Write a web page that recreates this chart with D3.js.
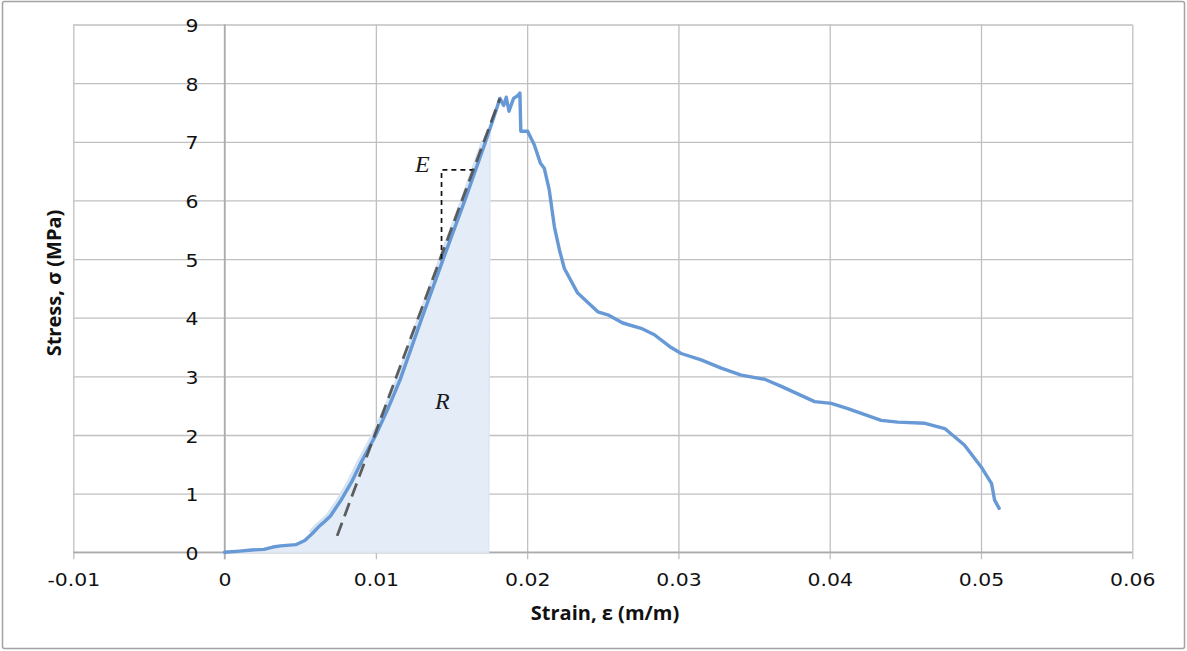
<!DOCTYPE html>
<html>
<head>
<meta charset="utf-8">
<script src="https://cdn.jsdelivr.net/npm/d3@7"></script>
<style>
  html, body { margin: 0; padding: 0; background: #fff; }
  svg { display: block; }
</style>
</head>
<body>
<svg id="chart" width="1187" height="651"></svg>
<script>
// ---- data ----
const strain = [0, 0.001, 0.0018, 0.0026, 0.0032, 0.0037, 0.0047, 0.0053, 0.0058, 0.0062, 0.0066, 0.007, 0.0077, 0.0084, 0.009, 0.0095, 0.01, 0.0108, 0.0116, 0.01305, 0.01445, 0.01588, 0.01725, 0.0179, 0.0182, 0.01845, 0.01862, 0.0188, 0.0191, 0.01935, 0.01952, 0.01958, 0.02003, 0.02047, 0.02087, 0.02113, 0.02146, 0.0218, 0.02213, 0.02246, 0.02334, 0.02467, 0.02533, 0.02632, 0.02753, 0.02841, 0.02941, 0.03018, 0.0315, 0.03283, 0.03415, 0.0357, 0.0368, 0.039, 0.0401, 0.0412, 0.0434, 0.0445, 0.0463, 0.0476, 0.0489, 0.05, 0.0507, 0.0509, 0.0512];
const stress = [0, 0.02, 0.04, 0.05, 0.09, 0.11, 0.13, 0.2, 0.32, 0.43, 0.52, 0.62, 0.89, 1.2, 1.52, 1.76, 2.0, 2.45, 2.94, 4.0, 5.0, 6.0, 7.0, 7.5, 7.74, 7.62, 7.76, 7.52, 7.74, 7.78, 7.83, 7.18, 7.18, 6.95, 6.64, 6.55, 6.18, 5.55, 5.16, 4.84, 4.42, 4.10, 4.05, 3.91, 3.82, 3.71, 3.51, 3.39, 3.28, 3.14, 3.02, 2.95, 2.83, 2.57, 2.54, 2.45, 2.25, 2.22, 2.20, 2.11, 1.83, 1.46, 1.17, 0.89, 0.75];

// resilience area R (shaded), ends here
const shadeTopStrain = 0.01755, shadeTopStress = 7.3, shadeBottomStrain = 0.01745;
// tangent (modulus E) dashed line
const tangentStrain = [0.00744, 0.0182];
const tangentStress = [0.28, 7.74];
// small slope triangle
const triStrain = [0.01434, 0.01434, 0.01639];
const triStress = [5.0, 6.52, 6.52];

const xTicks = [-0.01, 0, 0.01, 0.02, 0.03, 0.04, 0.05, 0.06];
const xTickLabels = ["-0.01", "0", "0.01", "0.02", "0.03", "0.04", "0.05", "0.06"];
const yTicks = [0, 1, 2, 3, 4, 5, 6, 7, 8, 9];
const yTickLabels = ["0", "1", "2", "3", "4", "5", "6", "7", "8", "9"];

const xTitle = "Strain, ε (m/m)";
const yTitle = "Stress, σ (MPa)";

// ---- layout ----
const svg = d3.select("#chart");
const L = 73.3, R = 1132.3, T = 24.5, B = 552.3;
const x = d3.scaleLinear().domain([-0.01, 0.06]).range([L, R]);
const y = d3.scaleLinear().domain([0, 9]).range([B, T]);
const SX = 1.2; // horizontal stretch of tick text seen in the reference

// outer border
svg.append("rect").attr("x", 2.5).attr("y", 1.5).attr("width", 1182).attr("height", 647)
  .attr("fill", "none").attr("stroke", "#a3a3a3").attr("stroke-width", 1.5).attr("rx", 2);

// horizontal grid
const gy = svg.append("g").attr("transform", `translate(${L},0)`)
  .call(d3.axisLeft(y).tickValues(yTicks).tickSize(-(R - L)).tickFormat(""));
gy.select(".domain").remove();
gy.selectAll(".tick line").attr("stroke", "#c0c0c0").attr("stroke-width", 1.3);

// vertical grid (with small tick extension below zero line)
const gx = svg.append("g").attr("transform", `translate(0,${B})`)
  .call(d3.axisBottom(x).tickValues(xTicks).tickSize(-(B - T)).tickFormat(""));
gx.select(".domain").remove();
gx.selectAll(".tick line").attr("y1", 7).attr("stroke", "#c0c0c0").attr("stroke-width", 1.3);

// zero axes slightly darker
svg.append("line").attr("x1", L).attr("x2", R).attr("y1", y(0)).attr("y2", y(0))
  .attr("stroke", "#ababab").attr("stroke-width", 1.5);
svg.append("line").attr("x1", x(0)).attr("x2", x(0)).attr("y1", T).attr("y2", B + 7)
  .attr("stroke", "#ababab").attr("stroke-width", 1.5);

// tick labels
const xl = svg.append("g").attr("transform", `translate(0,${B})`)
  .call(d3.axisBottom(x).tickValues(xTicks).tickSize(0).tickFormat((d, i) => xTickLabels[i]));
xl.select(".domain").remove();
xl.selectAll(".tick text")
  .attr("y", 0).attr("dy", null)
  .attr("transform", `translate(0,34) scale(${SX},1)`)
  .attr("font-family", "DejaVu Sans").attr("font-size", 17).attr("fill", "#111");

const yl = svg.append("g").attr("transform", `translate(${x(0)},0)`)
  .call(d3.axisLeft(y).tickValues(yTicks).tickSize(0).tickFormat((d, i) => yTickLabels[i]));
yl.select(".domain").remove();
yl.selectAll(".tick text")
  .attr("x", 0).attr("dy", null).attr("y", 0)
  .attr("transform", `translate(-26,7) scale(${SX},1)`)
  .attr("font-family", "DejaVu Sans").attr("font-size", 17).attr("fill", "#111");

// axis titles
svg.append("text").attr("transform", "translate(605,620)")
  .attr("text-anchor", "middle").attr("font-family", "Open Sans").attr("font-weight", "bold")
  .attr("font-size", 20).attr("fill", "#111").text(xTitle);
svg.append("text").attr("transform", "translate(61,283) rotate(-90)")
  .attr("text-anchor", "middle").attr("font-family", "Open Sans").attr("font-weight", "bold")
  .attr("font-size", 20).attr("fill", "#111").text(yTitle);

// data points
const pts = strain.map((s, i) => [s, stress[i]]);
const shadePts = pts.filter(p => p[0] <= 0.01725)
  .concat([[shadeTopStrain, shadeTopStress], [shadeBottomStrain, 0], [0, 0]]);

const line = d3.line().x(d => x(d[0])).y(d => y(d[1]));

// shaded area R
svg.append("path").attr("d", line(shadePts) + "Z")
  .attr("fill", "#e4edf7").attr("stroke", "#dbe6f3").attr("stroke-width", 1.5);
// soft halo along the top edge of the shading
svg.append("path").attr("d", line(pts.filter(p => p[0] >= 0.0055 && p[0] <= 0.01725)))
  .attr("fill", "none").attr("stroke", "#d6e3f2").attr("stroke-width", 6)
  .attr("transform", "translate(-1.5,-0.5)");

// main curve
svg.append("path").attr("d", line(pts))
  .attr("fill", "none").attr("stroke", "#6699d5").attr("stroke-width", 3.4)
  .attr("stroke-linejoin", "round").attr("stroke-linecap", "round");

// tangent dashed line
svg.append("path").attr("d", line(tangentStrain.map((s, i) => [s, tangentStress[i]])))
  .attr("fill", "none").attr("stroke", "#4d4d4d").attr("stroke-width", 2.8)
  .attr("stroke-dasharray", "14,7").attr("opacity", 0.9);

// slope triangle
svg.append("path").attr("d", line(triStrain.map((s, i) => [s, triStress[i]])))
  .attr("fill", "none").attr("stroke", "#111").attr("stroke-width", 1.7)
  .attr("stroke-dasharray", "5,4");

// labels
svg.append("text").attr("x", 415).attr("y", 172)
  .attr("font-family", "Liberation Serif").attr("font-style", "italic")
  .attr("font-size", 24).attr("fill", "#1a1a1a").text("E");
svg.append("text").attr("x", 435).attr("y", 409)
  .attr("font-family", "Liberation Serif").attr("font-style", "italic")
  .attr("font-size", 24).attr("fill", "#1a1a1a").text("R");
</script>
</body>
</html>
